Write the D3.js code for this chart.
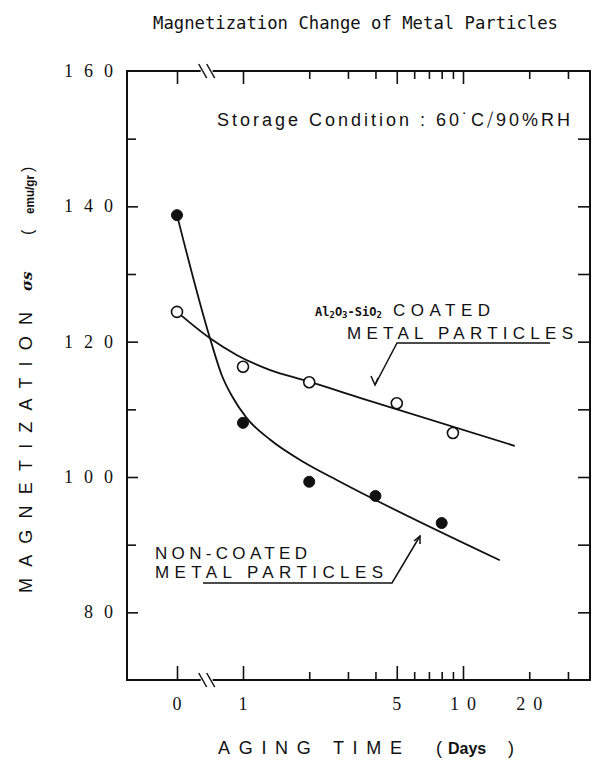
<!DOCTYPE html>
<html><head><meta charset="utf-8">
<script src="https://cdn.jsdelivr.net/npm/d3@7"></script>
<style>body{margin:0;background:#fff}svg{display:block}</style>
</head><body>
<script>
// ---- data ----
const coatedDays = [0, 1, 2, 5, 9];
const coatedVals = [124.4, 116.3, 114.0, 110.9, 106.5];
const nonCoatedDays = [0, 1, 2, 4, 8];
const nonCoatedVals = [138.7, 108.0, 99.3, 97.2, 93.2];
// fitted curves
const coatedFitDays = [0, 0.5, 0.91, 1.33, 1.95, 3.4, 17.2];
const coatedFitVals = [124.4, 120.5, 118.0, 115.8, 114.2, 111.7, 104.6];
const nonFitDays = [0, 0.5, 0.68, 0.83, 1.04, 1.33, 1.91, 2.76, 14.7];
const nonFitVals = [138.7, 120.5, 115.0, 112.0, 108.7, 105.5, 102.1, 99.3, 87.7];
// ticks
const xMajorTicks = [1, 5, 10];
const xMinorTicks = [2, 3, 4, 6, 7, 8, 9, 20, 30];
const xTickLabels = [{d:0,t:"0"},{d:1,t:"1"},{d:5,t:"5"},{d:10,t:"10"},{d:20,t:"20"}];
const yTickVals = [160, 140, 120, 100, 80];
const yTickLabels = ["160", "140", "120", "100", "80"];
const yMinorVals = [150, 130, 110, 90];

// ---- layout ----
const W = 592, H = 762;
const L = 127, R = 590, T = 71, B = 680;
const svg = d3.select("body").append("svg").attr("width", W).attr("height", H);
const ink = "#111";

const x0 = d3.scaleLinear().domain([0, 1]).range([177, 243]);
const xLog = d3.scaleLog().domain([1, 10]).range([243, 463]);
const xPos = d => d <= 1 ? x0(d) : xLog(d);
const y = d3.scaleLinear().domain([70, 160]).range([B, T]);

// ---- frame ----
const brk = x0(0.45);
const frame = svg.append("g").attr("stroke", ink).attr("stroke-width", 2).attr("fill", "none");
frame.append("line").attr("x1", L).attr("x2", L).attr("y1", T).attr("y2", B);
frame.append("line").attr("x1", R).attr("x2", R).attr("y1", T).attr("y2", B);
[T, B].forEach(yy => {
  frame.append("line").attr("x1", L - 1).attr("x2", brk - 6).attr("y1", yy).attr("y2", yy);
  frame.append("line").attr("x1", brk + 6).attr("x2", R + 1).attr("y1", yy).attr("y2", yy);
  [-4, 4].forEach(o => {
    frame.append("line").attr("stroke-width", 1.5)
      .attr("x1", brk + o - 4).attr("y1", yy - 7).attr("x2", brk + o + 4).attr("y2", yy + 7);
  });
});

// ---- axes (ticks only) ----
function clean(g) { g.select(".domain").remove(); g.selectAll("line").attr("stroke", ink).attr("stroke-width", 1.6); g.selectAll("text").remove(); }
svg.append("g").attr("transform", `translate(0,${B})`).call(d3.axisBottom(x0).tickValues([0]).tickSize(-14).tickSizeOuter(0)).call(clean);
svg.append("g").attr("transform", `translate(0,${B})`).call(d3.axisBottom(xLog).tickValues(xMajorTicks).tickSize(-14).tickSizeOuter(0)).call(clean);
svg.append("g").attr("transform", `translate(0,${B})`).call(d3.axisBottom(xLog).tickValues(xMinorTicks).tickSize(-8).tickSizeOuter(0)).call(clean);
svg.append("g").attr("transform", `translate(0,${T})`).call(d3.axisTop(x0).tickValues([0]).tickSize(-13).tickSizeOuter(0)).call(clean);
svg.append("g").attr("transform", `translate(0,${T})`).call(d3.axisTop(xLog).tickValues(xMajorTicks).tickSize(-13).tickSizeOuter(0)).call(clean);
svg.append("g").attr("transform", `translate(0,${T})`).call(d3.axisTop(xLog).tickValues(xMinorTicks).tickSize(-8).tickSizeOuter(0)).call(clean);
svg.append("g").attr("transform", `translate(${L},0)`).call(d3.axisLeft(y).tickValues(yTickVals.filter(v => v < 160)).tickSize(-11).tickSizeOuter(0)).call(clean);
svg.append("g").attr("transform", `translate(${L},0)`).call(d3.axisLeft(y).tickValues(yMinorVals).tickSize(-9).tickSizeOuter(0)).call(clean);
svg.append("g").attr("transform", `translate(${R},0)`).call(d3.axisRight(y).tickValues(d3.range(80, 160, 10)).tickSize(-12).tickSizeOuter(0)).call(clean);

// ---- tick labels ----
svg.append("g").selectAll("text").data(yTickVals).join("text")
  .attr("x", 124).attr("y", v => y(v) + 6)
  .attr("text-anchor", "end")
  .attr("font-family", "Liberation Serif, serif").attr("font-size", 18)
  .attr("letter-spacing", 11).attr("fill", ink)
  .text((v, i) => yTickLabels[i]);
svg.append("g").selectAll("text").data(xTickLabels).join("text")
  .attr("x", d => xPos(d.d) + (d.t.length > 1 ? 4 : 0)).attr("y", 710)
  .attr("text-anchor", "middle")
  .attr("font-family", "Liberation Serif, serif").attr("font-size", 18)
  .attr("letter-spacing", d => d.t.length > 1 ? 8 : 0).attr("fill", ink)
  .text(d => d.t);

// ---- title & labels ----
svg.append("text").attr("x", 153).attr("y", 29)
  .attr("font-family", "DejaVu Sans Mono, monospace").attr("font-size", 18)
  .attr("textLength", 405).attr("lengthAdjust", "spacingAndGlyphs").attr("fill", ink)
  .text("Magnetization Change of Metal Particles");
svg.append("text").attr("x", 217).attr("y", 126)
  .attr("font-family", "Liberation Sans, sans-serif").attr("font-size", 18)
  .attr("textLength", 353).attr("lengthAdjust", "spacing").attr("fill", ink)
  .text("Storage Condition : 60\u02D9C\u29F890%RH");

// x title
svg.append("text").attr("x", 218).attr("y", 754)
  .attr("font-family", "Liberation Sans, sans-serif").attr("font-size", 18)
  .attr("textLength", 184).attr("lengthAdjust", "spacing").attr("fill", ink)
  .text("AGING TIME");
const xt2 = svg.append("text").attr("y", 754).attr("fill", ink)
  .attr("font-family", "Liberation Sans, sans-serif");
xt2.append("tspan").attr("x", 436).attr("font-size", 18).text("(");
xt2.append("tspan").attr("x", 448).attr("font-size", 16).attr("font-weight", "bold")
  .attr("font-family", "Liberation Sans Narrow, Liberation Sans, sans-serif").text("Days");
xt2.append("tspan").attr("x", 508).attr("font-size", 18).text(")");

// y title (rotated)
const yt = svg.append("g").attr("fill", ink);
yt.append("text").attr("transform", "translate(32,593) rotate(-90)")
  .attr("font-family", "Liberation Sans, sans-serif").attr("font-size", 18)
  .attr("textLength", 281).attr("lengthAdjust", "spacing").text("MAGNETIZATION");
yt.append("text").attr("transform", "translate(32,291) rotate(-90)")
  .attr("font-family", "DejaVu Serif, serif").attr("font-size", 15).attr("font-style", "italic")
  .attr("font-weight", "bold").text("σs");
yt.append("text").attr("transform", "translate(33,235) rotate(-90)")
  .attr("font-family", "Liberation Sans, sans-serif").attr("font-size", 16).text("(");
yt.append("text").attr("transform", "translate(34,214) rotate(-90)")
  .attr("font-family", "Liberation Sans Narrow, Liberation Sans, sans-serif").attr("font-size", 13)
  .attr("font-weight", "bold").attr("textLength", 39).attr("lengthAdjust", "spacingAndGlyphs").text("emu/gr");
yt.append("text").attr("transform", "translate(33,172) rotate(-90)")
  .attr("font-family", "Liberation Sans, sans-serif").attr("font-size", 16).text(")");

// ---- fitted curves ----
const line = d3.line().x(d => d[0]).y(d => d[1]).curve(d3.curveMonotoneX);
const coatedPts = coatedFitDays.map((d, i) => [xPos(d), y(coatedFitVals[i])]);
const nonPts = nonFitDays.map((d, i) => [xPos(d), y(nonFitVals[i])]);
svg.append("path").attr("d", line(coatedPts)).attr("fill", "none").attr("stroke", ink).attr("stroke-width", 1.8);
svg.append("path").attr("d", line(nonPts)).attr("fill", "none").attr("stroke", ink).attr("stroke-width", 1.8);

// ---- points ----
svg.append("g").selectAll("circle").data(coatedDays).join("circle")
  .attr("cx", d => xPos(d)).attr("cy", (d, i) => y(coatedVals[i])).attr("r", 5.5)
  .attr("fill", "#fff").attr("stroke", ink).attr("stroke-width", 1.6);
svg.append("g").selectAll("circle").data(nonCoatedDays).join("circle")
  .attr("cx", d => xPos(d)).attr("cy", (d, i) => y(nonCoatedVals[i])).attr("r", 5.5)
  .attr("fill", ink).attr("stroke", ink).attr("stroke-width", 1);

// ---- annotations ----
const ann = svg.append("g").attr("fill", ink);
const a1 = ann.append("text").attr("y", 316);
a1.append("tspan").attr("x", 315).attr("font-family", "DejaVu Sans Mono, monospace")
  .attr("font-size", 12).attr("font-weight", "bold").text("Al");
a1.append("tspan").attr("font-family", "DejaVu Sans Mono, monospace").attr("font-size", 9).attr("font-weight", "bold").attr("dy", 2).text("2");
a1.append("tspan").attr("font-family", "DejaVu Sans Mono, monospace").attr("font-size", 12).attr("font-weight", "bold").attr("dy", -2).text("O");
a1.append("tspan").attr("font-family", "DejaVu Sans Mono, monospace").attr("font-size", 9).attr("font-weight", "bold").attr("dy", 2).text("3");
a1.append("tspan").attr("font-family", "DejaVu Sans Mono, monospace").attr("font-size", 12).attr("font-weight", "bold").attr("dy", -2).text("-SiO");
a1.append("tspan").attr("font-family", "DejaVu Sans Mono, monospace").attr("font-size", 9).attr("font-weight", "bold").attr("dy", 2).text("2");
ann.append("text").attr("x", 393).attr("y", 316)
  .attr("font-family", "Liberation Sans, sans-serif").attr("font-size", 17)
  .attr("textLength", 97).attr("lengthAdjust", "spacing").text("COATED");
ann.append("text").attr("x", 347).attr("y", 339)
  .attr("font-family", "Liberation Sans, sans-serif").attr("font-size", 17)
  .attr("textLength", 226).attr("lengthAdjust", "spacing").text("METAL PARTICLES");
ann.append("text").attr("x", 155).attr("y", 559)
  .attr("font-family", "Liberation Sans, sans-serif").attr("font-size", 17)
  .attr("textLength", 152).attr("lengthAdjust", "spacing").text("NON-COATED");
ann.append("text").attr("x", 155).attr("y", 578)
  .attr("font-family", "Liberation Sans, sans-serif").attr("font-size", 17)
  .attr("textLength", 228).attr("lengthAdjust", "spacing").text("METAL PARTICLES");

const lead = svg.append("g").attr("stroke", ink).attr("stroke-width", 1.5).attr("fill", "none");
lead.append("path").attr("d", "M550,343 L397,343 L375,385");
lead.append("path").attr("d", "M371,376 L375,385 L378,378");
lead.append("path").attr("d", "M203,583 L392,583 L420,536");
lead.append("path").attr("d", "M414,541 L420,536 L420,544");
</script>
</body></html>
